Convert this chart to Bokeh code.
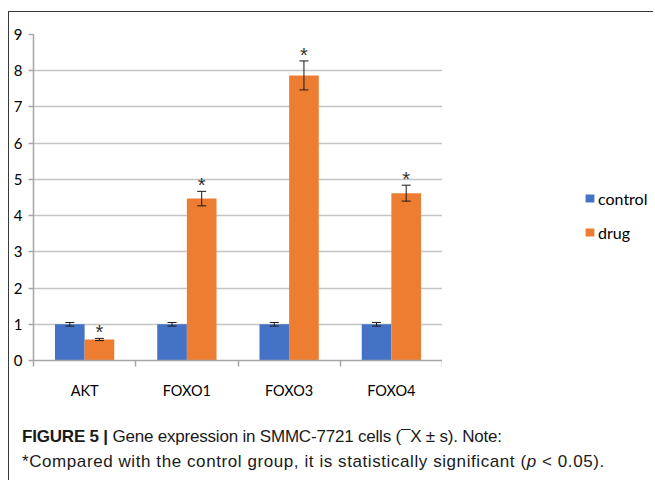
from bokeh.plotting import figure
from bokeh.layouts import column, row
from bokeh.models import (ColumnDataSource, Range1d, FixedTicker, Whisker, TeeHead,
                          Legend, LegendItem, Div)
from bokeh.embed import file_html
from bokeh.resources import INLINE

# ---- data ----
genes = ["AKT", "FOXO1", "FOXO3", "FOXO4"]
control = [1.0, 1.0, 1.0, 1.0]
control_err = [0.05, 0.05, 0.05, 0.05]
drug = [0.58, 4.47, 7.87, 4.62]
drug_err = [0.03, 0.20, 0.40, 0.22]
significant = [True, True, True, True]
y_ticks = [0, 1, 2, 3, 4, 5, 6, 7, 8, 9]
series_names = ["control", "drug"]
series_cols = ["control", "drug"]
series_colors = ["#4472C4", "#ED7D31"]
caption_bold = "FIGURE 5 |"
caption_line1 = "Gene expression in SMMC-7721 cells (\u00afX \u00b1 s). Note:"
caption_line2a = "*Compared with the control group, it is statistically significant ("
caption_p = "p"
caption_line2b = " &lt; 0.05)."

# ---- layout constants ----
W_CHART, W_LEG, H = 434, 211, 393
FL, FT, FB = 24, 22, 348
BAR_W = 0.29
AX_FONT = "Lato"
FRAME = "1px solid #3a3a3a"

xc = [i + 0.5 for i in range(len(genes))]
src = ColumnDataSource(dict(
    xcon=[x - BAR_W / 2 for x in xc],
    xdrug=[x + BAR_W / 2 for x in xc],
    control=control,
    drug=drug,
    c_lo=[v - e for v, e in zip(control, control_err)],
    c_hi=[v + e for v, e in zip(control, control_err)],
    d_lo=[v - e for v, e in zip(drug, drug_err)],
    d_hi=[v + e for v, e in zip(drug, drug_err)],
    star=["*" if s else "" for s in significant],
))

p = figure(width=W_CHART, height=H, output_backend="svg", toolbar_location=None,
           x_range=Range1d(0, len(genes)), y_range=Range1d(y_ticks[0], y_ticks[-1]),
           min_border_left=FL, min_border_right=1,
           min_border_top=FT, min_border_bottom=H - FB)
p.margin = (11, 0, 0, 8)
p.styles = {"border-top": FRAME, "border-left": FRAME}
p.outline_line_color = None
p.background_fill_color = "white"
p.border_fill_color = "white"

# axes
axis_gray = "#A6A6A6"
p.xaxis.ticker = FixedTicker(ticks=xc, minor_ticks=list(range(len(genes) + 1)))
ov = {}
for x, g in zip(xc, genes):
    ov[x] = g
    ov[str(x)] = g
p.xaxis.major_label_overrides = ov
p.xaxis.major_tick_out = 0
p.xaxis.major_tick_in = 0
p.xaxis.minor_tick_out = 6
p.xaxis.minor_tick_in = 0
p.xaxis.minor_tick_line_color = axis_gray
p.xaxis.minor_tick_line_width = 1.5
p.xaxis.major_label_standoff = 15
p.yaxis.ticker = FixedTicker(ticks=y_ticks)
p.yaxis.major_tick_out = 5
p.yaxis.major_tick_in = 0
p.yaxis.minor_tick_line_color = None
p.yaxis.major_label_standoff = 6
for ax in (p.xaxis, p.yaxis):
    ax.axis_line_color = axis_gray
    ax.axis_line_width = 1.5
    ax.major_tick_line_color = axis_gray
    ax.major_tick_line_width = 1.5
    ax.major_label_text_font = AX_FONT
    ax.major_label_text_font_size = "15px"
    ax.major_label_text_color = "#000000"
p.xaxis.major_label_text_font_size = "14.5px"
p.xgrid.grid_line_color = None
p.ygrid.grid_line_color = "#C4C4C4"
p.ygrid.grid_line_width = 1.5

# bars
r1 = p.vbar(x="xcon", top="control", width=BAR_W, fill_color=series_colors[0],
            line_color=None, source=src)
r2 = p.vbar(x="xdrug", top="drug", width=BAR_W, fill_color=series_colors[1],
            line_color=None, source=src)

# error bars
for base, lo, hi in (("xcon", "c_lo", "c_hi"), ("xdrug", "d_lo", "d_hi")):
    w = Whisker(source=src, base=base, lower=lo, upper=hi,
                line_color="#1a1a1a", line_width=1, level="annotation",
                upper_head=TeeHead(size=9, line_color="#1a1a1a", line_width=1),
                lower_head=TeeHead(size=9, line_color="#1a1a1a", line_width=1))
    p.add_layout(w)

# significance stars
p.text(x="xdrug", y="d_hi", text="star", source=src, text_align="center",
       text_baseline="alphabetic", text_font_size="20px", text_color="#333333",
       y_offset=-6)

# legend figure (to the right of the chart); its swatch renderers use the same
# data but the view range shows none of the bars themselves
lf = figure(width=W_LEG, height=H, output_backend="svg", toolbar_location=None,
            x_range=Range1d(-2, -1), y_range=Range1d(y_ticks[0], y_ticks[-1]),
            x_axis_location=None, y_axis_location=None,
            min_border_left=0, min_border_right=0, min_border_top=0, min_border_bottom=0)
lf.margin = (11, 0, 0, 0)
lf.styles = {"border-top": FRAME}
lf.outline_line_color = None
lf.grid.grid_line_color = None
lf.border_fill_color = "white"
sw = [lf.vbar(x=xcol, top=col, width=BAR_W, fill_color=c, line_color=None, source=src)
      for xcol, col, c in zip(["xcon", "xdrug"], series_cols, series_colors)]
legend = Legend(items=[LegendItem(label=n, renderers=[r]) for n, r in zip(series_names, sw)],
                location=(142, 118), glyph_width=11, glyph_height=10,
                label_height=20, spacing=14, label_standoff=3, padding=0, margin=0,
                border_line_color=None, background_fill_alpha=0,
                label_text_font=AX_FONT, label_text_font_size="16px",
                label_text_color="#000000", label_text_baseline="middle")
lf.add_layout(legend)

# caption
cap_html = (
    '<div style="padding:20px 0 0 13px; font-family:\'Liberation Sans\'; '
    'font-size:17px; line-height:25px; color:#1a1a1a; white-space:nowrap;">'
    f'<span style="letter-spacing:-0.2px"><b>{caption_bold}</b> {caption_line1}</span><br>'
    f'<span style="letter-spacing:0.58px">{caption_line2a}<i>{caption_p}</i>{caption_line2b}</span></div>'
)
cap = Div(text=cap_html, width=W_CHART + W_LEG, height=76)
cap.margin = (0, 0, 0, 8)
cap.styles = {"border-left": FRAME}

layout = column(row(p, lf, spacing=0), cap, spacing=0)

open("out.html", "w").write(file_html(layout, INLINE))
